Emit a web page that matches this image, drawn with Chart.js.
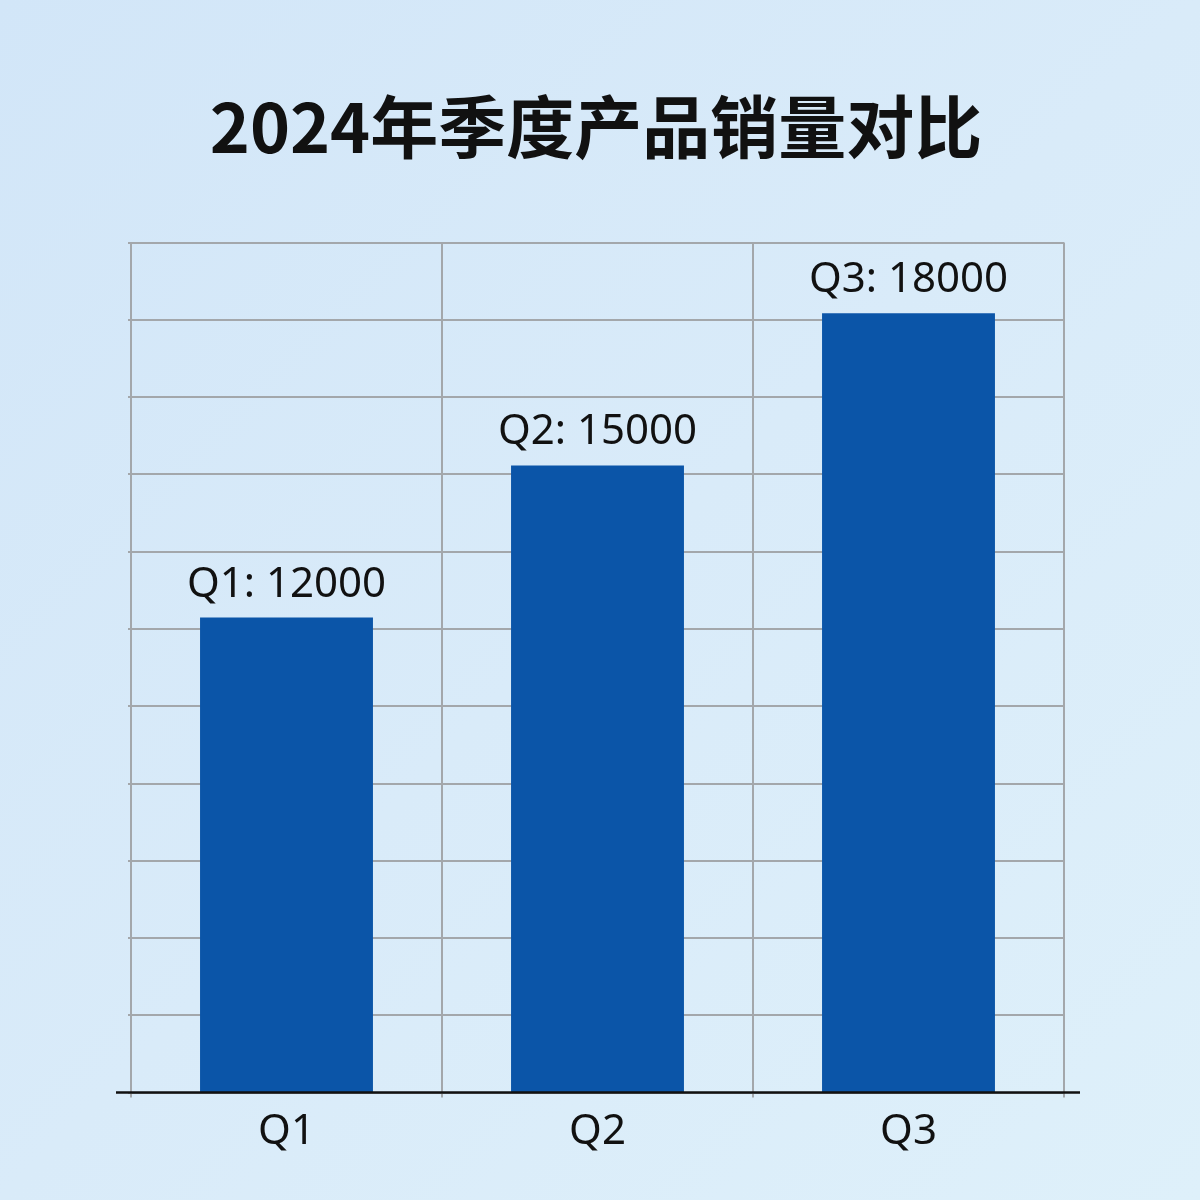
<!DOCTYPE html>
<html>
<head>
<meta charset="utf-8">
<script src="https://cdn.jsdelivr.net/npm/chart.js@4/dist/chart.umd.min.js"></script>
<style>
    html, body { margin: 0; padding: 0; }
    body {
        width: 1200px;
        height: 1200px;
        background: linear-gradient(135deg, #d2e6f8 0%, #d9ebf9 50%, #def0fa 100%);
    }
    #salesChart { display: block; }
</style>
</head>
<body>
<canvas id="salesChart" width="1200" height="1200"></canvas>
<script>
// Chart data
const titleText = '2024年季度产品销量对比';
const quarters = ['Q1', 'Q2', 'Q3'];
const sales = [12000, 15000, 18000];

// Value axis range (axis labels are hidden in the original)
const yMin = 2640;
const yMax = 19390;
const yGridCount = 12;

const gridGray = '#a3a7ab';
const textDark = '#111111';
const barBlue = '#0b55a8';

// Labels like "Q1: 12000" above every bar
const barLabels = {
    id: 'barLabels',
    afterDatasetsDraw(chart) {
        const ctx = chart.ctx;
        const meta = chart.getDatasetMeta(0);
        ctx.save();
        ctx.font = '42px "Noto Sans"';
        ctx.fillStyle = textDark;
        ctx.textAlign = 'center';
        ctx.textBaseline = 'alphabetic';
        meta.data.forEach((bar, i) => {
            ctx.fillText(`${quarters[i]}: ${sales[i]}`, bar.x, bar.y - 21);
        });
        ctx.restore();
    }
};

// Black base line, a bit wider than the plot area
const baseLine = {
    id: 'baseLine',
    afterDraw(chart) {
        const ctx = chart.ctx;
        const area = chart.chartArea;
        ctx.save();
        ctx.strokeStyle = '#111111';
        ctx.lineWidth = 2.5;
        ctx.beginPath();
        ctx.moveTo(area.left - 15, area.bottom);
        ctx.lineTo(area.right + 16, area.bottom);
        ctx.stroke();
        ctx.restore();
    }
};

const ctx = document.getElementById('salesChart').getContext('2d');
const salesChart = new Chart(ctx, {
    type: 'bar',
    data: {
        labels: quarters,
        datasets: [{
            label: '销量',
            data: sales,
            backgroundColor: barBlue,
            borderWidth: 0,
            categoryPercentage: 1,
            barPercentage: 0.556
        }]
    },
    options: {
        responsive: false,
        animation: false,
        devicePixelRatio: 1,
        layout: {
            padding: { left: 128, right: 136, top: 0, bottom: 34 }
        },
        plugins: {
            legend: { display: false },
            tooltip: { enabled: false },
            title: {
                display: true,
                text: titleText,
                color: textDark,
                font: { family: '"Noto Sans CJK SC"', size: 68, weight: 'bold' },
                padding: { top: 86, bottom: 75 }
            }
        },
        scales: {
            x: {
                grid: {
                    color: gridGray,
                    lineWidth: 2,
                    tickLength: 5,
                    offset: true
                },
                border: { display: false },
                ticks: {
                    color: textDark,
                    padding: 9,
                    font: { family: '"Noto Sans"', size: 42 }
                }
            },
            y: {
                min: yMin,
                max: yMax,
                grid: {
                    color: gridGray,
                    lineWidth: 2,
                    tickLength: 3
                },
                border: { display: true, color: gridGray, width: 2 },
                ticks: {
                    display: false,
                    count: yGridCount
                }
            }
        }
    },
    plugins: [barLabels, baseLine]
});
</script>
</body>
</html>
